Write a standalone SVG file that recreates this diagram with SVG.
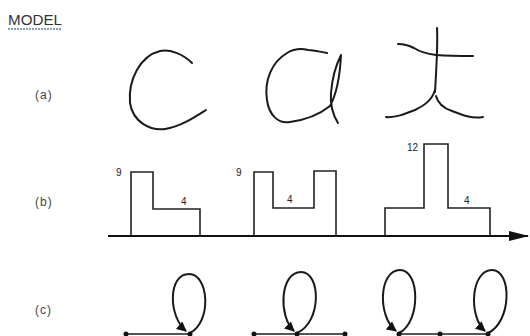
<svg xmlns="http://www.w3.org/2000/svg" width="530" height="336" viewBox="0 0 530 336">
<style>
.lbl{font-family:"Liberation Sans",Arial,sans-serif;font-size:12px;letter-spacing:1px;fill:#444}
.num{font-family:"Liberation Sans",Arial,sans-serif;font-size:10px;fill:#222}
.ink{fill:none;stroke:#1a1a1a;stroke-width:2;stroke-linecap:round;stroke-linejoin:round}
.bar{fill:none;stroke:#222;stroke-width:1.6;stroke-linejoin:miter}
.loop{fill:none;stroke:#1a1a1a;stroke-width:2}
.edge{stroke:#555;stroke-width:2}
.dot{fill:#111}
</style>
<defs>
<marker id="ah" viewBox="0 0 10 10" refX="9" refY="5" markerWidth="5" markerHeight="5" orient="auto">
<path d="M0,0 L10,5 L0,10 Z" fill="#111"/>
</marker>
<marker id="axh" viewBox="0 0 20 10" refX="19" refY="5" markerWidth="10" markerHeight="5" orient="auto" markerUnits="strokeWidth">
<path d="M0,0 L20,5 L0,10 Z" fill="#111"/>
</marker>
</defs>

<g id="title">
<text x="8" y="25" style="font-family:'Liberation Sans',Arial,sans-serif;font-size:14px;fill:#333" textLength="54" lengthAdjust="spacingAndGlyphs">MODEL</text>
<line x1="8" y1="29" x2="62" y2="29" stroke="#6a7a9a" stroke-width="1.5" stroke-dasharray="2,1"/>
</g>

<g id="row-labels">
<text class="lbl" x="35" y="99">(a)</text>
<text class="lbl" x="35" y="206">(b)</text>
<text class="lbl" x="35" y="314">(c)</text>
</g>

<g id="letter-c">
<path class="ink" d="M192,63 C183,54 170,49 160,51 C140,56 128,80 130,103 C133,122 150,131 165,129 C180,127 195,117 206,110"/>
</g>
<g id="letter-a">
<path class="ink" d="M327,53 C320,52 315,50 308,50 C300,48 292,50 287,53 C272,62 264,80 267,100 C269,115 278,124 290,122 C305,120 320,114 330,106 C336,95 340,75 341,55 C336,65 332,80 331,93 C330,105 333,115 338,123"/>
</g>
<g id="letter-t">
<path class="ink" d="M437,28 C438,45 436,75 435,92"/>
<path class="ink" d="M398,44 C405,44 410,46 414,48 C420,52 428,54 436,55 C450,56 462,56 473,56"/>
<path class="ink" d="M435,90 C432,100 425,105 415,110 C405,114 395,118 386,117"/>
<path class="ink" d="M436,96 C438,104 443,108 452,111 C462,115 472,119 483,117"/>
</g>

<g id="axis">
<line x1="108" y1="236" x2="528" y2="236" stroke="#111" stroke-width="2" marker-end="url(#axh)"/>
</g>

<g id="profile-c">
<polyline class="bar" points="131,236 131,172 153,172 153,209 200,209 200,236"/>
<text class="num" x="116" y="176">9</text>
<text class="num" x="181" y="205">4</text>
</g>
<g id="profile-a">
<polyline class="bar" points="254,236 254,172 273,172 273,208 314,208 314,171 336,171 336,236"/>
<text class="num" x="236" y="176">9</text>
<text class="num" x="287" y="203">4</text>
</g>
<g id="profile-t">
<polyline class="bar" points="385,236 385,208 424,208 424,144 448,144 448,208 490,208 490,236"/>
<text class="num" x="407" y="151">12</text>
<text class="num" x="464" y="204">4</text>
</g>

<g id="connectors">
<line class="edge" x1="126" y1="334" x2="190" y2="334"/>
<line class="edge" x1="254" y1="334" x2="345" y2="334"/>
<line class="edge" x1="399" y1="334" x2="488" y2="334"/>
<path class="loop" marker-end="url(#ah)" d="M190,333 C212,322 209,274 189,274 C168,274 168,316 186,331"/>
<path class="loop" marker-end="url(#ah)" d="M297,333 C322,322 321,272 301,272 C280,272 278,316 294,331"/>
<path class="loop" marker-end="url(#ah)" d="M399,333 C421,322 420,270 400,270 C379,270 377,316 396,331"/>
<path class="loop" marker-end="url(#ah)" d="M488,333 C512,322 512,270 492,270 C471,270 468,316 485,331"/>
</g>

<g id="nodes">
<circle class="dot" cx="126" cy="334" r="2.5"/>
<circle class="dot" cx="190" cy="334" r="2.5"/>
<circle class="dot" cx="254" cy="334" r="2.5"/>
<circle class="dot" cx="297" cy="334" r="2.5"/>
<circle class="dot" cx="345" cy="334" r="2.5"/>
<circle class="dot" cx="399" cy="334" r="2.5"/>
<circle class="dot" cx="440" cy="334" r="2.5"/>
<circle class="dot" cx="488" cy="334" r="2.5"/>
</g>
</svg>
